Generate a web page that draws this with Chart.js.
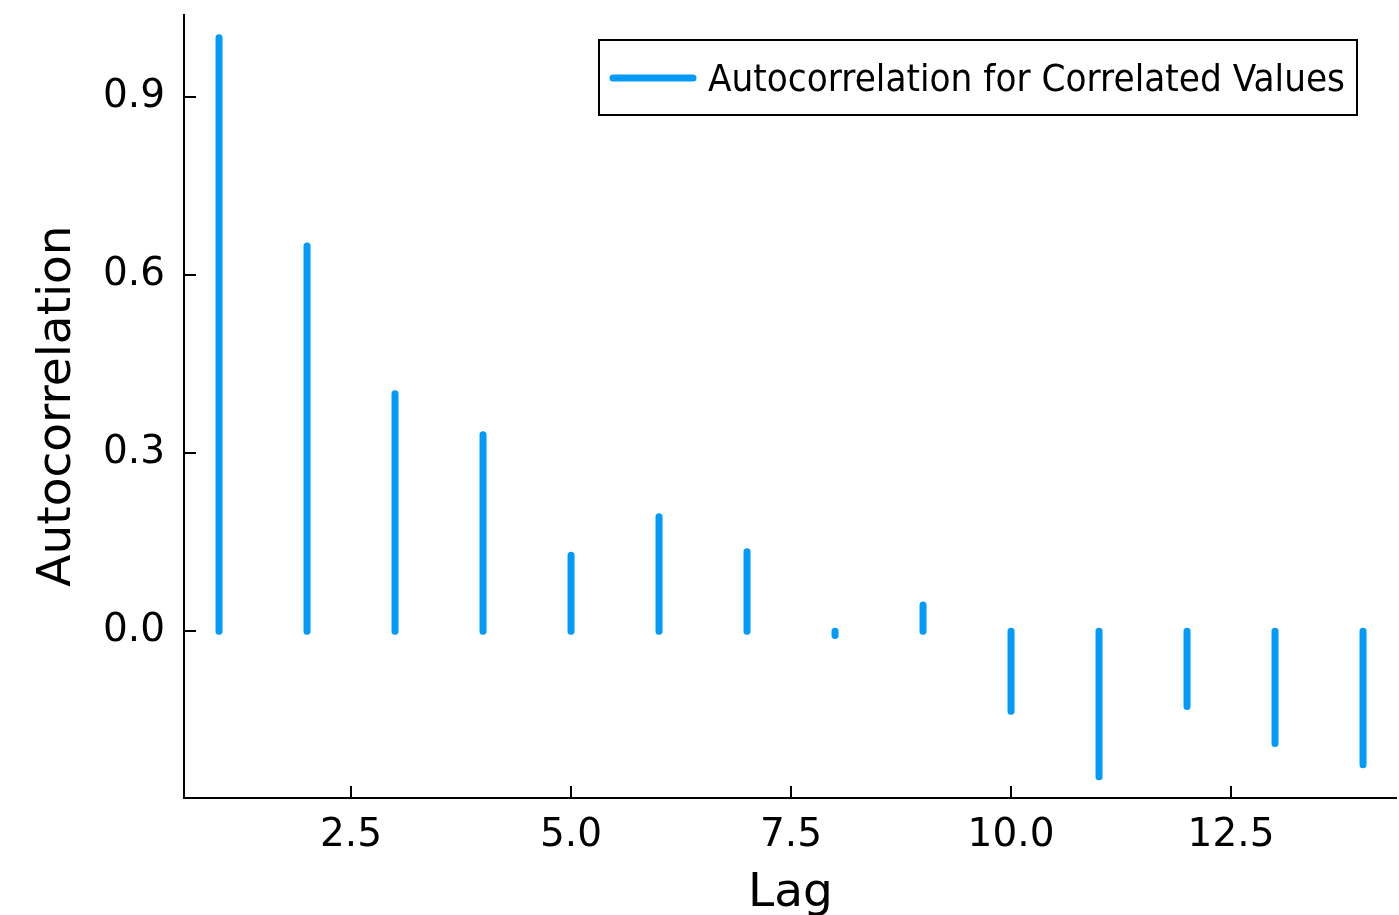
<!DOCTYPE html>
<html>
<head>
<meta charset="utf-8">
<script src="https://cdn.jsdelivr.net/npm/chart.js@4.4.1/dist/chart.umd.min.js"></script>
<style>
  html, body { margin: 0; padding: 0; background: #fff; }
  #wrap { width: 1399px; height: 915px; }
</style>
</head>
<body>
<div id="wrap"><canvas id="acfChart" width="1399" height="915"></canvas></div>
<script>
// data
const lags = [1, 2, 3, 4, 5, 6, 7, 8, 9, 10, 11, 12, 13, 14];
const acf = [1.0, 0.649, 0.400, 0.331, 0.128, 0.193, 0.134, -0.007, 0.044, -0.135, -0.245, -0.127, -0.189, -0.225];
const xTicks = [2.5, 5.0, 7.5, 10.0, 12.5];
const yTicks = [0.0, 0.3, 0.6, 0.9];
const seriesLabel = "Autocorrelation for Correlated Values";

const blue = "#009afa";
const font = "'DejaVu Sans', sans-serif";

// each lag becomes a stick from 0 to its value, broken by a null point
const stickPoints = [];
lags.forEach((lag, i) => {
  stickPoints.push({ x: lag, y: 0 });
  stickPoints.push({ x: lag, y: acf[i] });
  stickPoints.push({ x: lag, y: null });
});

/* axes lines + inward tick marks */
const axisFrame = {
  id: "axisFrame",
  afterDraw(chart) {
    const { ctx, chartArea: a, scales } = chart;
    ctx.save();
    ctx.strokeStyle = "#000";
    ctx.lineWidth = 2;
    ctx.beginPath();
    ctx.moveTo(a.left, a.top);
    ctx.lineTo(a.left, a.bottom);
    ctx.lineTo(a.right, a.bottom);
    ctx.stroke();
    ctx.beginPath();
    xTicks.forEach(v => {
      const px = Math.round(scales.x.getPixelForValue(v));
      ctx.moveTo(px, a.bottom);
      ctx.lineTo(px, a.bottom - 12);
    });
    yTicks.forEach(v => {
      const py = Math.round(scales.y.getPixelForValue(v));
      ctx.moveTo(a.left, py);
      ctx.lineTo(a.left + 12, py);
    });
    ctx.stroke();
    ctx.restore();
  }
};

/* boxed legend in the top right corner */
const boxLegend = {
  id: "boxLegend",
  afterDraw(chart) {
    const { ctx } = chart;
    ctx.save();
    ctx.fillStyle = "#fff";
    ctx.fillRect(599, 40, 758, 75);
    ctx.strokeStyle = "#000";
    ctx.lineWidth = 2;
    ctx.strokeRect(599, 40, 758, 75);

    ctx.strokeStyle = blue;
    ctx.lineWidth = 7;
    ctx.lineCap = "round";
    ctx.beginPath();
    ctx.moveTo(613, 78);
    ctx.lineTo(693, 78);
    ctx.stroke();

    ctx.fillStyle = "#000";
    ctx.font = "38px " + font;
    ctx.textBaseline = "alphabetic";
    const w = ctx.measureText(seriesLabel).width;
    const sx = 637 / w;
    ctx.translate(708, 91);
    ctx.scale(sx, 1);
    ctx.fillText(seriesLabel, 0, 0);
    ctx.restore();
  }
};

new Chart(document.getElementById("acfChart"), {
  type: "line",
  data: {
    datasets: [{
      label: seriesLabel,
      data: stickPoints,
      borderColor: blue,
      borderWidth: 7,
      borderCapStyle: "round",
      pointRadius: 0,
      spanGaps: false,
      tension: 0
    }]
  },
  options: {
    responsive: false,
    animation: false,
    devicePixelRatio: 1,
    layout: { padding: { top: 14, right: 2, left: 0, bottom: 0 } },
    plugins: {
      legend: { display: false },
      tooltip: { enabled: false }
    },
    scales: {
      x: {
        type: "linear",
        min: 0.602,
        max: 14.386,
        grid: { display: false, drawTicks: false },
        border: { display: false },
        afterBuildTicks: s => { s.ticks = xTicks.map(v => ({ value: v })); },
        afterFit: s => { s.height = 117; s.paddingLeft = 0; s.paddingRight = 0; },
        ticks: {
          padding: 14,
          color: "#000",
          font: { family: font, size: 39 },
          maxRotation: 0,
          callback: v => Number(v).toFixed(1)
        },
        title: {
          display: true,
          text: "Lag",
          color: "#000",
          font: { family: font, size: 47 },
          padding: { top: 0, bottom: -7 }
        }
      },
      y: {
        type: "linear",
        min: -0.281,
        max: 1.04,
        grid: { display: false, drawTicks: false },
        border: { display: false },
        afterBuildTicks: s => { s.ticks = yTicks.map(v => ({ value: v })); },
        afterFit: s => { s.width = 184; s.paddingTop = 0; s.paddingBottom = 0; },
        ticks: {
          padding: 19,
          color: "#000",
          font: { family: font, size: 39 },
          callback: v => Number(v).toFixed(1)
        },
        title: {
          display: true,
          text: "Autocorrelation",
          color: "#000",
          font: { family: font, size: 47 },
          padding: { top: 30, bottom: 0 }
        }
      }
    }
  },
  plugins: [axisFrame, boxLegend]
});
</script>
</body>
</html>
